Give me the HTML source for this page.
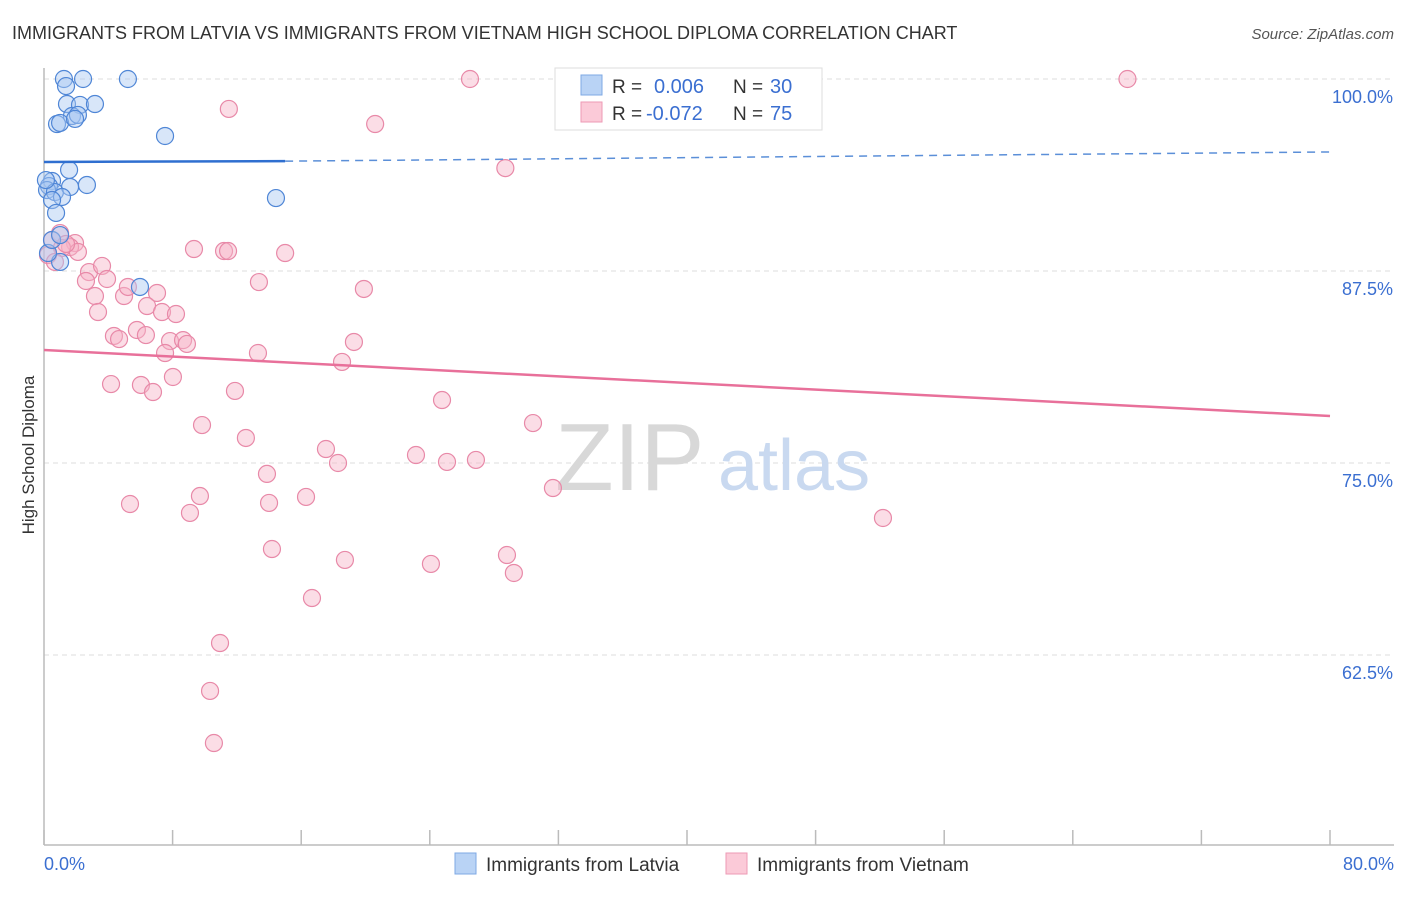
<!DOCTYPE html>
<html><head><meta charset="utf-8"><style>
body{margin:0;background:#fff;font-family:"Liberation Sans",sans-serif;}
svg text{font-family:"Liberation Sans",sans-serif;}
</style></head><body>
<svg id="chart" width="1406" height="892" viewBox="0 0 1406 892" xmlns="http://www.w3.org/2000/svg">
<text x="12" y="39" font-size="18" fill="#333">IMMIGRANTS FROM LATVIA VS IMMIGRANTS FROM VIETNAM HIGH SCHOOL DIPLOMA CORRELATION CHART</text>
<text x="1394" y="39" font-size="15" fill="#555" text-anchor="end" font-style="italic">Source: ZipAtlas.com</text>
<g id="grid"></g>
<text x="555" y="490" font-size="96" fill="#d8d8d8" font-family="Liberation Serif,serif">ZIP</text>
<text x="718" y="490" font-size="72" fill="#c9d9f0">atlas</text>
<line x1="44" y1="68" x2="44" y2="845" stroke="#bbb" stroke-width="1.5"/>
<line x1="44" y1="845" x2="1394" y2="845" stroke="#bbb" stroke-width="1.5"/>
<g id="ticks"></g>
<text transform="translate(34,455) rotate(-90)" font-size="17" fill="#333" text-anchor="middle">High School Diploma</text>
<text x="44" y="870" font-size="18" fill="#3b6fd1">0.0%</text>
<text x="1394" y="870" font-size="18" fill="#3b6fd1" text-anchor="end">80.0%</text>
<g id="pts"></g>
<g id="lines"></g>
<g>
<rect x="555" y="68" width="267" height="62" fill="#fff" stroke="#ddd"/>
<rect x="581" y="75" width="21" height="20" fill="#b9d3f5" stroke="#7ea8e4"/>
<rect x="581" y="102" width="21" height="20" fill="#fbcad8" stroke="#ee9ab5"/>
<text x="612" y="93" font-size="19" fill="#333">R = </text><text x="654" y="93" font-size="20" fill="#3b6fd1">0.006</text>
<text x="733" y="93" font-size="19" fill="#333">N = </text><text x="770" y="93" font-size="20" fill="#3b6fd1">30</text>
<text x="612" y="120" font-size="19" fill="#333">R = </text><text x="646" y="120" font-size="20" fill="#3b6fd1">-0.072</text>
<text x="733" y="120" font-size="19" fill="#333">N = </text><text x="770" y="120" font-size="20" fill="#3b6fd1">75</text>
</g>
<g>
<rect x="455" y="853" width="21" height="21" fill="#b9d3f5" stroke="#7ea8e4"/>
<text x="486" y="871" font-size="19" fill="#333">Immigrants from Latvia</text>
<rect x="726" y="853" width="21" height="21" fill="#fbcad8" stroke="#ee9ab5"/>
<text x="757" y="871" font-size="19" fill="#333">Immigrants from Vietnam</text>
</g>
</svg>
<script>
const latviaX=[1.24,1.37,2.43,5.22,1.43,2.24,3.17,1.74,2.11,0.81,1.00,7.53,1.56,0.50,0.31,0.19,0.68,1.62,2.67,1.12,0.50,0.75,14.43,1.00,5.97,0.25,0.50,1.00,0.12,1.93];
const latviaY=[100,99.54,100,100,98.37,98.31,98.37,97.59,97.66,97.07,97.14,96.29,94.08,93.36,93.03,92.77,92.64,92.97,93.10,92.32,92.12,91.28,92.25,88.09,86.46,88.67,89.52,89.84,93.42,97.4];
const vietnamX=[26.5,67.4,11.5,20.6,28.7,1.0,0.5,1.93,1.62,2.11,1.12,9.33,11.2,11.45,15.0,2.8,3.61,2.61,3.92,13.37,3.17,4.98,5.22,7.03,19.9,3.36,6.41,7.34,8.21,4.35,4.67,5.78,6.34,7.84,8.65,8.89,19.28,7.53,13.31,18.54,4.17,6.03,6.78,8.02,11.88,24.76,30.42,9.83,12.56,17.54,18.29,23.14,25.07,26.87,13.87,31.66,5.35,9.7,9.08,14.0,16.3,52.19,14.18,18.72,24.07,28.8,29.23,16.67,10.95,10.33,10.57,0.25,0.68,1.37,43.3];
const vietnamY=[100,100,98.05,97.07,94.2,89.97,89.52,89.32,89.06,88.74,89.0,88.93,88.8,88.8,88.67,87.43,87.83,86.85,86.98,86.78,85.87,85.87,86.46,86.07,86.33,84.83,85.22,84.83,84.7,83.27,83.07,83.66,83.33,82.94,83.0,82.75,82.88,82.16,82.16,81.58,80.14,80.08,79.62,80.6,79.69,79.1,77.6,77.47,76.63,75.91,75.0,75.52,75.07,75.2,74.29,73.37,72.33,72.85,71.75,72.4,72.79,71.42,69.4,68.69,68.43,69.01,67.84,66.21,63.28,60.16,56.77,88.54,88.09,89.26,100];
const yTicks=[100,87.5,75,62.5];
const yTickLabels=["100.0%","87.5%","75.0%","62.5%"];
const xTicks=[0,8,16,24,32,40,48,56,64,72,80];
const latviaTrend=[[0,94.6],[15,94.65],[80,95.25]];
const vietnamTrend=[[0,82.36],[80,78.06]];
const NS="http://www.w3.org/2000/svg";
const sx=v=>44+v/80*1286;
const sy=v=>79+(100-v)/12.5*192;
function mk(tag,attrs,parent){const e=document.createElementNS(NS,tag);for(const k in attrs)e.setAttribute(k,attrs[k]);parent.appendChild(e);return e;}
const grid=document.getElementById('grid'),ticks=document.getElementById('ticks'),pts=document.getElementById('pts'),lines=document.getElementById('lines');
yTicks.forEach((t,i)=>{
 const l=mk('line',{x1:44,x2:1394,y1:sy(t),y2:sy(t),stroke:'#ddd','stroke-dasharray':'5,4'},grid);
 
 
 const tx=mk('text',{x:1393,y:sy(t)+24,'font-size':18,fill:'#3b6fd1','text-anchor':'end'},grid);
 tx.textContent=yTickLabels[i];
 
 
});
xTicks.forEach(t=>{
 const l=mk('line',{x1:sx(t),x2:sx(t),y1:830,y2:845,stroke:'#bbb','stroke-width':1.5},ticks);
 
 
});
function dots(X,Y,fill,stroke,name){
 X.forEach((x,i)=>{
  const c=mk('circle',{cx:sx(x),cy:sy(Y[i]),r:8.5,fill:fill,'fill-opacity':0.45,stroke:stroke,'stroke-width':1.2},pts);
  
  
 });
}
dots(vietnamX,vietnamY,'#f7b3c8','#e889a8','vietnam-point');
dots(latviaX,latviaY,'#a8c8f2','#4f86d6','latvia-point');
const b1=mk('line',{x1:sx(latviaTrend[0][0]),y1:sy(latviaTrend[0][1]),x2:sx(latviaTrend[1][0]),y2:sy(latviaTrend[1][1]),stroke:'#2f6fd0','stroke-width':2.5},lines);


const b2=mk('line',{x1:sx(latviaTrend[1][0]),y1:sy(latviaTrend[1][1]),x2:sx(latviaTrend[2][0]),y2:sy(latviaTrend[2][1]),stroke:'#5b8fd8','stroke-width':1.5,'stroke-dasharray':'8,6'},lines);


const p1=mk('line',{x1:sx(vietnamTrend[0][0]),y1:sy(vietnamTrend[0][1]),x2:sx(vietnamTrend[1][0]),y2:sy(vietnamTrend[1][1]),stroke:'#e8709a','stroke-width':2.5},lines);


</script>
</body></html>
